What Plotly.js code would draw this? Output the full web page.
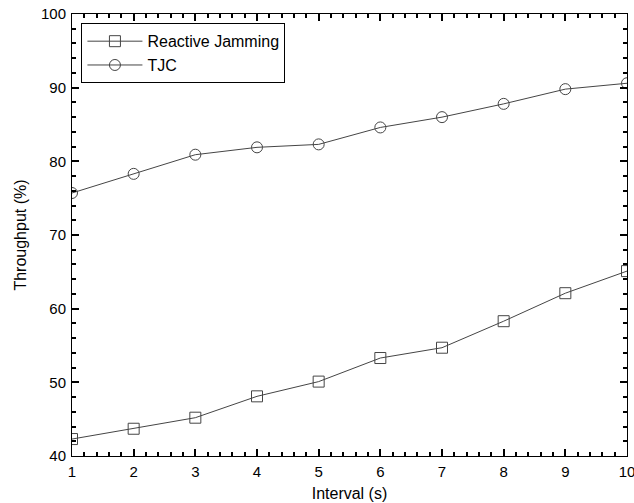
<!DOCTYPE html>
<html>
<head>
<meta charset="utf-8">
<script src="https://cdn.plot.ly/plotly-3.0.1.min.js"></script>
<style>html,body{margin:0;padding:0;background:#fff;}#chart{width:634px;height:503px;}</style>
</head>
<body>
<div id="chart"></div>
<script>
var intervals = [1, 2, 3, 4, 5, 6, 7, 8, 9, 10];
var reactiveJamming = [42.3, 43.7, 45.2, 48.1, 50.1, 53.3, 54.7, 58.3, 62.1, 65.1];
var tjc = [75.7, 78.3, 80.9, 81.9, 82.3, 84.6, 86.0, 87.8, 89.8, 90.6];
var seriesNames = ['Reactive Jamming', 'TJC'];

var lineColor = '#454545';
var fam = 'Liberation Sans, Arial, sans-serif';

var traces = [
  {x: intervals, y: reactiveJamming, name: seriesNames[0], type: 'scatter', mode: 'lines+markers',
   line: {color: lineColor, width: 1},
   marker: {symbol: 'square-open', size: 11, color: lineColor, line: {width: 1, color: lineColor}}},
  {x: intervals, y: tjc, name: seriesNames[1], type: 'scatter', mode: 'lines+markers',
   line: {color: lineColor, width: 1},
   marker: {symbol: 'circle-open', size: 11, color: lineColor, line: {width: 1, color: lineColor}}},
  // empty helper trace so the minor-tick overlay axes are drawn
  {x: [], y: [], xaxis: 'x2', yaxis: 'y2', type: 'scatter', mode: 'markers', showlegend: false, hoverinfo: 'skip'}
];

var layout = {
  width: 634, height: 503,
  margin: {l: 72, r: 7, t: 14, b: 47},
  paper_bgcolor: '#fff', plot_bgcolor: '#fff',
  font: {family: fam, size: 15, color: '#000'},
  showlegend: true,
  legend: {x: 0.017, y: 0.979, xanchor: 'left', yanchor: 'top',
           bgcolor: '#fff', bordercolor: '#000', borderwidth: 1,
           itemwidth: 55,
           font: {family: fam, size: 16, color: '#000'},
           tracegroupgap: 0},
  xaxis: {
    range: [1, 10], dtick: 1, tick0: 1,
    showgrid: false, zeroline: false, showline: true, linecolor: '#000', linewidth: 1,
    mirror: 'ticks', ticks: 'inside', ticklen: 7, tickcolor: '#000', tickwidth: 2,
    ticklabeloverflow: 'allow', ticklabelstandoff: 2,
    tickfont: {family: fam, size: 15, color: '#000'},
    title: {text: 'Interval (s)', font: {family: fam, size: 16, color: '#000'}, standoff: 8}
  },
  yaxis: {
    range: [40, 100], dtick: 10, tick0: 40,
    showgrid: false, zeroline: false, showline: true, linecolor: '#000', linewidth: 1,
    mirror: 'ticks', ticks: 'inside', ticklen: 7, tickcolor: '#000', tickwidth: 2,
    ticklabelstandoff: 2,
    tickfont: {family: fam, size: 15, color: '#000'},
    title: {text: 'Throughput (%)', font: {family: fam, size: 16, color: '#000'}, standoff: 10}
  },
  xaxis2: {
    overlaying: 'x', anchor: 'y2', side: 'bottom',
    range: [1, 10], dtick: 0.2, tick0: 1,
    showgrid: false, zeroline: false, showline: false,
    mirror: 'ticks', ticks: 'inside', ticklen: 4, tickcolor: '#000', tickwidth: 1.8,
    showticklabels: false
  },
  yaxis2: {
    overlaying: 'y', anchor: 'x2', side: 'left',
    range: [40, 100], dtick: 2, tick0: 40,
    showgrid: false, zeroline: false, showline: false,
    mirror: 'ticks', ticks: 'inside', ticklen: 4, tickcolor: '#000', tickwidth: 1.8,
    showticklabels: false
  }
};

Plotly.newPlot('chart', traces, layout, {displayModeBar: false});
</script>
</body>
</html>
